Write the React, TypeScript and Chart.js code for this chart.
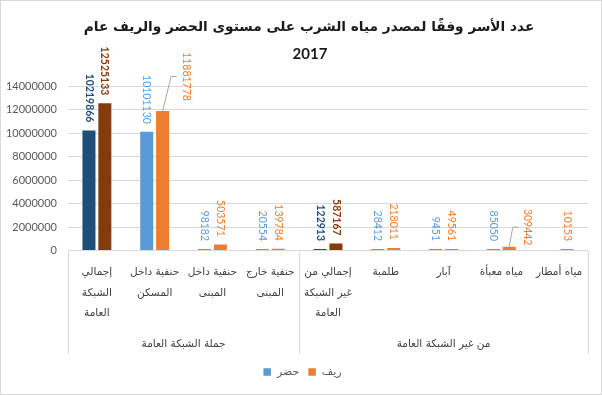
import React, { useEffect, useRef } from "react";
import { Chart, registerables } from "chart.js";

Chart.register(...registerables);

// ---------- data ----------
const titleLines = ["عدد الأسر وفقًا لمصدر مياه الشرب على مستوى الحضر والريف عام", "2017"];
const categoryNames = [
  "إجمالي الشبكة العامة",
  "حنفية داخل المسكن",
  "حنفية داخل المبنى",
  "حنفية خارج المبنى",
  "إجمالي من غير الشبكة العامة",
  "طلمبة",
  "آبار",
  "مياه معبأة",
  "مياه أمطار",
];
const categoryLines: string[][] = [
  ["إجمالي", "الشبكة", "العامة"],
  ["حنفية داخل", "المسكن"],
  ["حنفية داخل", "المبنى"],
  ["حنفية خارج", "المبنى"],
  ["إجمالي من", "غير الشبكة", "العامة"],
  ["طلمبة"],
  ["آبار"],
  ["مياه معبأة"],
  ["مياه أمطار"],
];
const groupLabels = ["جملة الشبكة العامة", "من غير الشبكة العامة"];
const groupSizes = [4, 5];
const totalFlags = [true, false, false, false, true, false, false, false, false];
const seriesNames = ["حضر", "ريف"];
const urbanValues: (number | null)[] = [10219866, 10101130, 98182, 20554, 122913, 28412, 9451, 85050, null];
const ruralValues: (number | null)[] = [12525133, 11881778, 503571, 139784, 587167, 218011, 49561, 309442, 10153];
const yTicks = [0, 2000000, 4000000, 6000000, 8000000, 10000000, 12000000, 14000000];

// ---------- styles ----------
const lightColors = ["#5B9BD5", "#ED7D31"];
const darkColors = ["#1F4E79", "#843C0C"];
const NUM_FONT = "Lato, 'Liberation Sans', sans-serif";
const AR_FONT = "'DejaVu Sans', sans-serif";
// special label placements (dataset-index) -> pixel offsets with leader line
const labelOffsets: Record<string, { dx: number; dy: number }> = {
  "1-1": { dx: 23.5, dy: -2 },
  "1-7": { dx: 18.5, dy: 6.6 },
};

const overlay = {
  id: "overlay",
  afterDraw(chart: any) {
    const ctx: CanvasRenderingContext2D = chart.ctx;
    const xs = chart.scales.x;
    const area = chart.chartArea;
    const n = categoryNames.length;
    const catW = (area.right - area.left) / n;

    ctx.save();
    // outer border
    ctx.strokeStyle = "#d9d9d9";
    ctx.lineWidth = 1;
    ctx.strokeRect(0.5, 0.5, chart.width - 1, chart.height - 1);

    // title
    ctx.fillStyle = "#1a1a1a";
    ctx.textAlign = "center";
    ctx.textBaseline = "middle";
    ctx.direction = "rtl";
    ctx.font = `bold 13.7px ${AR_FONT}`;
    ctx.fillText(titleLines[0], 309, 27);
    ctx.direction = "ltr";
    ctx.font = `bold 15px ${NUM_FONT}`;
    ctx.fillText(titleLines[1], 310, 54);

    // separators
    const axisBottom = 354;
    let idx = 0;
    const bounds: number[] = [area.left];
    groupSizes.forEach((s) => {
      idx += s;
      bounds.push(xs.getPixelForValue(idx - 1) + catW / 2);
    });
    ctx.strokeStyle = "#d9d9d9";
    bounds.forEach((bx) => {
      const x = Math.round(bx) + 0.5;
      ctx.beginPath();
      ctx.moveTo(x, area.bottom);
      ctx.lineTo(x, axisBottom);
      ctx.stroke();
    });

    // category labels
    ctx.fillStyle = "#404040";
    ctx.direction = "rtl";
    ctx.font = `10.5px ${AR_FONT}`;
    categoryLines.forEach((lines, i) => {
      const cx = xs.getPixelForValue(i);
      lines.forEach((ln, j) => {
        ctx.fillText(ln, cx, 272.5 + j * 20.3);
      });
    });
    // group labels
    groupLabels.forEach((g, k) => {
      ctx.fillText(g, (bounds[k] + bounds[k + 1]) / 2, 344);
    });

    // data labels
    [urbanValues, ruralValues].forEach((vals, d) => {
      const meta = chart.getDatasetMeta(d);
      vals.forEach((v, i) => {
        if (v === null) return;
        const el = meta.data[i];
        const bold = totalFlags[i];
        const color = bold ? darkColors[d] : lightColors[d];
        const text = String(v);
        ctx.font = `${bold ? "bold " : ""}10.5px ${NUM_FONT}`;
        ctx.direction = "ltr";
        const w = ctx.measureText(text).width;
        let cx = el.x;
        let endY = el.y - 8;
        const off = labelOffsets[`${d}-${i}`];
        if (off) {
          cx += off.dx;
          endY += off.dy;
          const mid = endY - w / 2;
          const lx = cx - 5;
          ctx.strokeStyle = "#a6a6a6";
          ctx.lineWidth = 1;
          ctx.beginPath();
          ctx.moveTo(el.x, el.y);
          ctx.lineTo(lx - 10, mid);
          ctx.lineTo(lx - 4.5, mid);
          ctx.stroke();
        }
        ctx.save();
        ctx.fillStyle = color;
        ctx.translate(cx, endY);
        ctx.rotate(Math.PI / 2);
        ctx.textAlign = "right";
        ctx.textBaseline = "middle";
        ctx.fillText(text, 0, 0);
        ctx.restore();
      });
    });

    // legend
    ctx.font = `11px ${AR_FONT}`;
    ctx.textBaseline = "middle";
    const box = 7.5;
    const gap = 6;
    const sep = 9;
    const widths = seriesNames.map((s) => ctx.measureText(s).width);
    const total = widths.reduce((a, b) => a + b, 0) + seriesNames.length * (box + gap) + sep * (seriesNames.length - 1);
    let lx = 302.5 - total / 2;
    const ly = 372;
    seriesNames.forEach((s, k) => {
      ctx.fillStyle = lightColors[k];
      ctx.fillRect(lx, ly - box / 2, box, box);
      lx += box + gap;
      ctx.fillStyle = "#595959";
      ctx.textAlign = "left";
      ctx.direction = "ltr";
      ctx.fillText(s, lx, ly);
      lx += widths[k] + sep;
    });
    ctx.restore();
  },
};

export default function App() {
  const ref = useRef<HTMLCanvasElement | null>(null);
  useEffect(() => {
    if (!ref.current) return;
    const barColors = (d: number) => categoryNames.map((_, i) => (totalFlags[i] ? darkColors[d] : lightColors[d]));
    const chart = new Chart(ref.current, {
      type: "bar",
      data: {
        labels: categoryNames,
        datasets: [
          {
            label: seriesNames[0],
            data: urbanValues as any,
            backgroundColor: barColors(0),
            categoryPercentage: 0.55,
            barPercentage: 0.82,
            minBarLength: 1.5,
          },
          {
            label: seriesNames[1],
            data: ruralValues as any,
            backgroundColor: barColors(1),
            categoryPercentage: 0.55,
            barPercentage: 0.82,
            minBarLength: 1.5,
          },
        ],
      },
      options: {
        animation: false,
        responsive: true,
        maintainAspectRatio: false,
        layout: { padding: { top: 86, right: 14, left: 0, bottom: 0 } },
        plugins: { legend: { display: false }, title: { display: false }, tooltip: { enabled: false } },
        scales: {
          x: {
            grid: { display: false },
            border: { display: false },
            ticks: { display: false },
            afterFit: (s: any) => {
              s.height = 144.5;
            },
          },
          y: {
            min: 0,
            max: 14000000,
            border: { display: false },
            grid: { color: "#d9d9d9", drawTicks: false, lineWidth: 1 },
            afterBuildTicks: (s: any) => {
              s.ticks = yTicks.map((v) => ({ value: v }));
            },
            ticks: {
              padding: 11,
              color: "#595959",
              font: { family: NUM_FONT, size: 11 },
              callback: (v: any) => String(v),
            },
            afterFit: (s: any) => {
              s.width = 68;
            },
          },
        },
      },
      plugins: [overlay],
    });
    return () => chart.destroy();
  }, []);
  return (
    <div style={{ position: "fixed", left: 0, top: 0, width: 602, height: 395, background: "#fff" }}>
      <canvas ref={ref} />
    </div>
  );
}
